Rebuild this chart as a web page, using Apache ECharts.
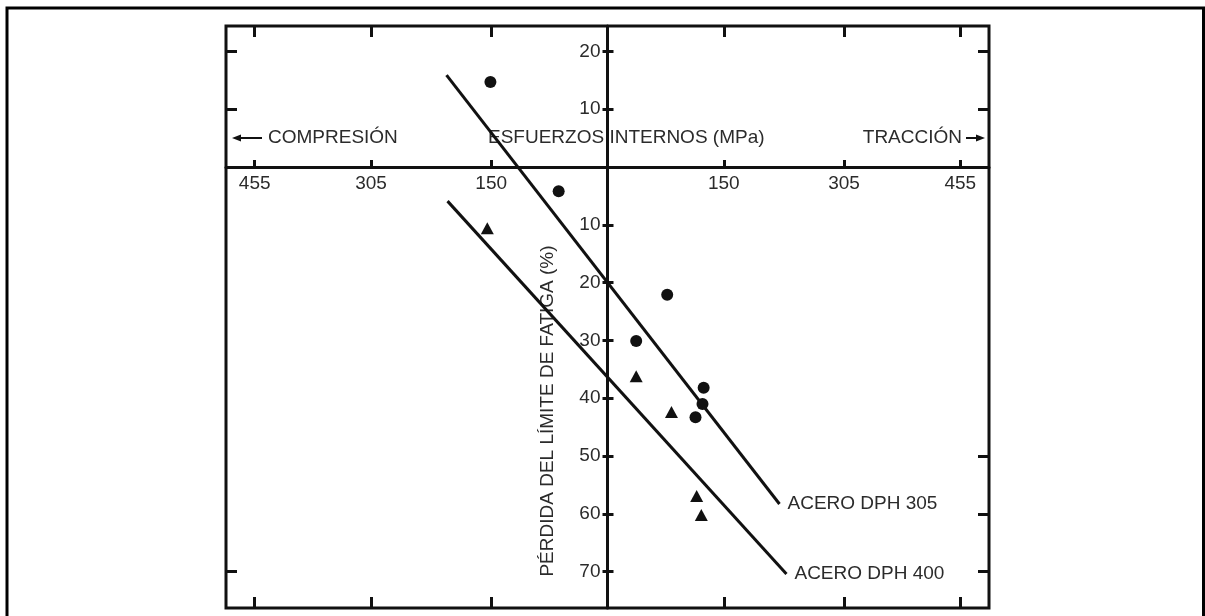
<!DOCTYPE html>
<html>
<head>
<meta charset="utf-8">
<script src="https://cdn.jsdelivr.net/npm/echarts@6/dist/echarts.min.js"></script>
<style>
html,body{margin:0;padding:0;background:#fff;}
#chart{width:1205px;height:616px;}
</style>
</head>
<body>
<div id="chart"></div>
<script>
// Stress axis (MPa): negative = compression, positive = tension
const xTickValues = [-455, -305, -150, 150, 305, 455];
const xTickLabels = ['455', '305', '150', '150', '305', '455'];
// Loss of fatigue limit (%): axis drawn inverted (negative = above the stress axis)
const yTickValues = [-20, -10, 10, 20, 30, 40, 50, 60, 70];
const yTickLabels = ['20', '10', '10', '20', '30', '40', '50', '60', '70'];
const leftEdgeTicks = [-20, -10, 70];
const rightEdgeTicks = [-20, -10, 50, 60, 70];

// ACERO DPH 305 (circles)
const dph305X = [-151, -63, 77, 37, 124, 122.5, 113.5];
const dph305Y = [-14.7, 4.2, 22.1, 30.1, 38.2, 41.0, 43.3];
// ACERO DPH 400 (triangles)
const dph400X = [-155, 37, 82.5, 115, 121];
const dph400Y = [10.6, 36.2, 42.4, 56.9, 60.2];
// Fitted lines
const line305X = [-207.6, 221.8];
const line305Y = [-15.9, 58.3];
const line400X = [-206.3, 230.8];
const line400Y = [5.9, 70.4];

const seriesNames = ['ACERO DPH 305', 'ACERO DPH 400'];
const texts = {
  comp: 'COMPRESIÓN',
  esf: 'ESFUERZOS INTERNOS (MPa)',
  trac: 'TRACCIÓN',
  yname: 'PÉRDIDA DEL LÍMITE DE FATIGA (%)'
};

const FONT = '"Liberation Sans", Arial, sans-serif';
const INK = '#111';
const TXT = '#2b2b2b';

const zip = (a, b) => a.map((v, i) => [v, b[i]]);
const xLab = v => { const i = xTickValues.indexOf(v); return i >= 0 ? xTickLabels[i] : ''; };
const yLab = v => { const i = yTickValues.indexOf(v); return i >= 0 ? yTickLabels[i] : ''; };

const X_MIN = -492, X_MAX = 492, Y_MIN = -24.4, Y_MAX = 76.3;
const W = 1205, H = 616;
const G = { left: 226, right: 216, top: 26, bottom: 8 };
const gx0 = G.left, gx1 = W - G.right, gy0 = G.top, gy1 = H - G.bottom;
// pixel position of the zero of each scale (where the central axes cross)
const zeroX = gx0 + (0 - X_MIN) / (X_MAX - X_MIN) * (gx1 - gx0);
const zeroY = gy0 + (0 - Y_MIN) / (Y_MAX - Y_MIN) * (gy1 - gy0);
const xCenterOffset = -(gy1 - zeroY);   // move bottom axis up to the zero line
const yCenterOffset = -(zeroX - gx0);   // move left axis right to the zero line

function tick(len, inside, vals) {
  return { show: true, inside: inside, length: len, customValues: vals, lineStyle: { color: INK, width: 3 } };
}
function xAx(extra) {
  return Object.assign({
    type: 'value', min: X_MIN, max: X_MAX,
    splitLine: { show: false },
    axisLine: { show: false, onZero: false },
    axisLabel: { show: false },
    axisTick: tick(11, true, xTickValues)
  }, extra);
}
function yAx(extra) {
  return Object.assign({
    type: 'value', min: Y_MIN, max: Y_MAX, inverse: true,
    splitLine: { show: false },
    axisLine: { show: false, onZero: false },
    axisLabel: { show: false },
    axisTick: tick(11, true, yTickValues)
  }, extra);
}

const chart = echarts.init(document.getElementById('chart'), null, { renderer: 'canvas' });
chart.setOption({
  animation: false,
  backgroundColor: '#fff',
  grid: Object.assign({ show: true, borderColor: INK, borderWidth: 3, backgroundColor: 'transparent', outerBoundsMode: 'none', containLabel: false }, G),
  xAxis: [
    xAx({
      position: 'bottom', offset: xCenterOffset,
      axisLine: { show: true, onZero: false, lineStyle: { color: INK, width: 3 } },
      axisTick: tick(7, true, xTickValues),
      axisLabel: { show: true, customValues: xTickValues, formatter: xLab, margin: 7, fontSize: 19, fontFamily: FONT, color: TXT }
    }),
    xAx({ position: 'top', axisTick: tick(11, true, xTickValues) }),
    xAx({ position: 'bottom', axisTick: tick(11, true, xTickValues) })
  ],
  yAxis: [
    yAx({
      position: 'left', offset: yCenterOffset,
      axisLine: { show: true, onZero: false, lineStyle: { color: INK, width: 3 } },
      axisTick: tick(5, false, yTickValues),
      axisLabel: { show: true, customValues: yTickValues, formatter: yLab, margin: 7, fontSize: 19, fontFamily: FONT, color: TXT }
    }),
    yAx({ position: 'left', offset: yCenterOffset, axisTick: tick(6, true, yTickValues) }),
    yAx({ position: 'left', axisTick: tick(11, true, leftEdgeTicks) }),
    yAx({ position: 'right', axisTick: tick(11, true, rightEdgeTicks) })
  ],
  series: [
    {
      name: seriesNames[0] + ' ajuste', type: 'line', xAxisIndex: 0, yAxisIndex: 0,
      data: zip(line305X, line305Y), symbol: 'none',
      lineStyle: { color: INK, width: 3 },
      endLabel: { show: true, formatter: () => seriesNames[0], distance: 8, fontSize: 19, fontFamily: FONT, color: TXT }
    },
    {
      name: seriesNames[1] + ' ajuste', type: 'line', xAxisIndex: 0, yAxisIndex: 0,
      data: zip(line400X, line400Y), symbol: 'none',
      lineStyle: { color: INK, width: 3 },
      endLabel: { show: true, formatter: () => seriesNames[1], distance: 8, fontSize: 19, fontFamily: FONT, color: TXT }
    },
    {
      name: seriesNames[0], type: 'scatter', xAxisIndex: 0, yAxisIndex: 0,
      data: zip(dph305X, dph305Y), symbol: 'circle', symbolSize: 12,
      itemStyle: { color: INK, opacity: 1 }
    },
    {
      name: seriesNames[1], type: 'scatter', xAxisIndex: 0, yAxisIndex: 0,
      data: zip(dph400X, dph400Y), symbol: 'triangle', symbolSize: [13, 12],
      itemStyle: { color: INK, opacity: 1 }
    }
  ],
  graphic: [
    { type: 'rect', shape: { x: 7, y: 8, width: 1196.5, height: 700 }, style: { fill: 'none', stroke: '#000', lineWidth: 3 }, silent: true },
    { type: 'text', x: 268, y: 138, style: { text: texts.comp, font: '19px ' + FONT, fill: TXT, textAlign: 'left', textVerticalAlign: 'middle' } },
    { type: 'line', shape: { x1: 239, y1: 138, x2: 262, y2: 138 }, style: { stroke: INK, lineWidth: 2 } },
    { type: 'polygon', shape: { points: [[232, 138], [241, 134.5], [241, 141.5]] }, style: { fill: INK } },
    { type: 'text', x: 488, y: 138, style: { text: texts.esf, font: '19px ' + FONT, fill: TXT, textAlign: 'left', textVerticalAlign: 'middle' } },
    { type: 'text', x: 962, y: 138, style: { text: texts.trac, font: '19px ' + FONT, fill: TXT, textAlign: 'right', textVerticalAlign: 'middle' } },
    { type: 'line', shape: { x1: 966, y1: 138, x2: 978, y2: 138 }, style: { stroke: INK, lineWidth: 2 } },
    { type: 'polygon', shape: { points: [[985, 138], [976, 134.5], [976, 141.5]] }, style: { fill: INK } },
    { type: 'text', x: 548, y: 411, rotation: Math.PI / 2, style: { text: texts.yname, font: '19px ' + FONT, fill: TXT, textAlign: 'center', textVerticalAlign: 'middle' } }
  ]
});
</script>
</body>
</html>
